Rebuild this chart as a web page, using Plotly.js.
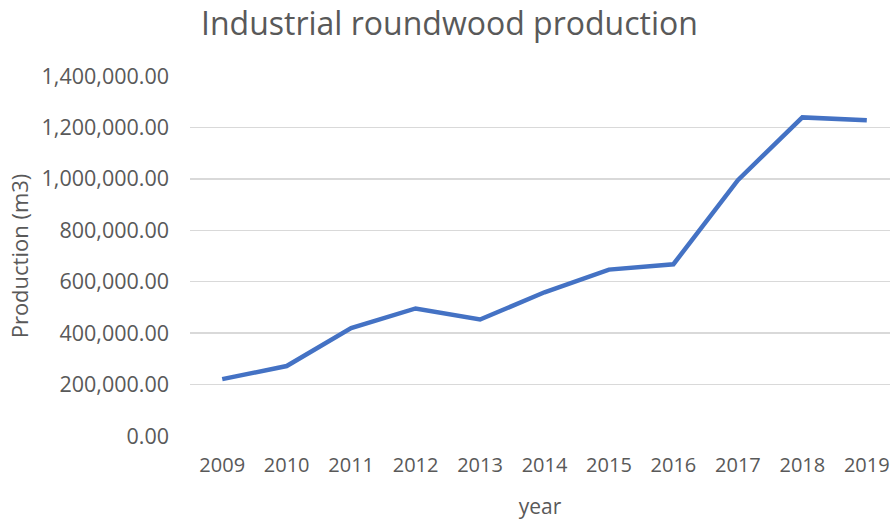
<!DOCTYPE html>
<html>
<head>
<meta charset="utf-8">
<script src="https://cdn.plot.ly/plotly-3.0.1.min.js"></script>
<style>html,body{margin:0;padding:0;background:#fff;}#chart{width:890px;height:520px;}</style>
</head>
<body>
<div id="chart"></div>
<script>
const years = [2009, 2010, 2011, 2012, 2013, 2014, 2015, 2016, 2017, 2018, 2019];
const production = [221000, 272000, 420000, 496000, 453000, 559000, 647000, 668000, 995000, 1239000, 1228000];
const yTicks = [0, 200000, 400000, 600000, 800000, 1000000, 1200000, 1400000];

const fontFam = "Open Sans, Liberation Sans, sans-serif";
const grey = "#595959";

Plotly.newPlot("chart", [{
  x: years,
  y: production,
  type: "scatter",
  mode: "lines",
  line: {color: "#4472c4", width: 4.5},
  hoverinfo: "skip"
}], {
  width: 890,
  height: 520,
  paper_bgcolor: "#fff",
  plot_bgcolor: "#fff",
  margin: {l: 190, r: 0, t: 76, b: 84},
  showlegend: false,
  title: {text: "Industrial roundwood production", font: {family: fontFam, size: 32, color: grey}, x: 0.505, xanchor: "center", y: 0.955, yanchor: "middle"},
  xaxis: {
    range: [2008.5, 2019.36],
    tickvals: years,
    ticktext: years.map(String),
    showgrid: false,
    zeroline: false,
    showline: false,
    ticks: "",
    tickfont: {family: fontFam, size: 20, color: grey},
    ticklabelstandoff: 15,
    title: {text: "year", font: {family: fontFam, size: 21, color: grey}, standoff: 23}
  },
  yaxis: {
    range: [0, 1400000],
    tickvals: yTicks,
    ticktext: yTicks.map(v => v.toLocaleString("en-US", {minimumFractionDigits: 2, maximumFractionDigits: 2})),
    showgrid: true,
    gridcolor: "#d9d9d9",
    gridwidth: 1.3,
    zeroline: false,
    showline: false,
    ticks: "",
    tickfont: {family: fontFam, size: 21.5, color: grey},
    ticklabelstandoff: 20,
    title: {text: "Production (m3)", font: {family: fontFam, size: 22, color: grey}, standoff: 6}
  }
}, {displayModeBar: false, staticPlot: true});
</script>
</body>
</html>
